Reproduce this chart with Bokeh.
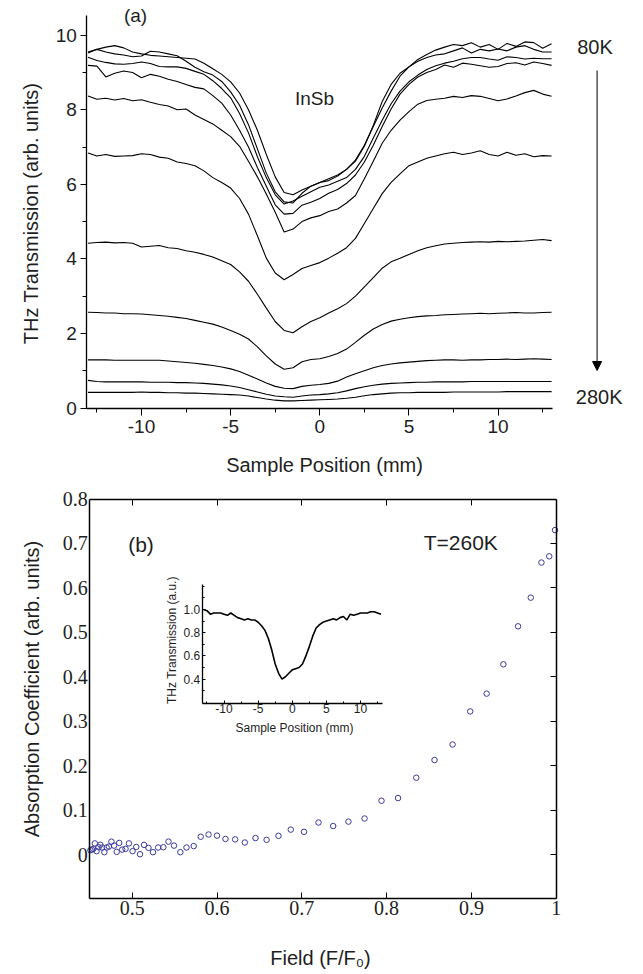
from bokeh.plotting import figure
from bokeh.models import (FixedTicker, Label, Arrow, NormalHead, LinearAxis, Range1d,
                          PrintfTickFormatter, CustomJSTickFormatter)
from bokeh.layouts import column
from bokeh.embed import file_html
from bokeh.resources import INLINE

FONT = "Liberation Sans"
NARROW = "Liberation Sans Narrow"
TXT = "#1e1e1e"

# ---------------- panel (a): THz transmission vs sample position ----------------
position_mm = [-13, -12.5, -12, -11.5, -11, -10.5, -10, -9.5, -9, -8.5, -8, -7.5, -7,
               -6.5, -6, -5.5, -5, -4.5, -4, -3.5, -3, -2.5, -2, -1.5, -1, -0.5,
               0, 0.5, 1, 1.5, 2, 2.5, 3, 3.5, 4, 4.5, 5, 5.5, 6,
               6.5, 7, 7.5, 8, 8.5, 9, 9.5, 10, 10.5, 11, 11.5, 12, 12.5, 13]

trans_1 = [9.52, 9.62, 9.68, 9.72, 9.66, 9.55, 9.50, 9.46, 9.44, 9.42, 9.40, 9.38, 9.36,
           9.25, 9.10, 8.95, 8.75, 8.45, 8.00, 7.45, 6.80, 6.20, 5.78, 5.72, 5.85, 5.95,
           6.05, 6.15, 6.25, 6.40, 6.65, 7.05, 7.55, 8.05, 8.50, 8.90, 9.15, 9.35, 9.48,
           9.60, 9.68, 9.75, 9.72, 9.80, 9.68, 9.75, 9.62, 9.78, 9.70, 9.82, 9.80, 9.65, 9.77]
trans_2 = [9.55, 9.62, 9.55, 9.50, 9.47, 9.42, 9.44, 9.57, 9.55, 9.50, 9.45, 9.30, 9.14,
           9.02, 8.93, 8.76, 8.48, 8.12, 7.60, 6.95, 6.30, 5.80, 5.53, 5.50, 5.76, 5.95,
           6.05, 6.10, 6.22, 6.40, 6.62, 7.02, 7.58, 8.22, 8.68, 8.98, 9.15, 9.30, 9.40,
           9.47, 9.50, 9.58, 9.66, 9.52, 9.62, 9.58, 9.63, 9.58, 9.68, 9.72, 9.62, 9.55, 9.55]
trans_3 = [9.41, 9.32, 9.27, 9.23, 9.22, 9.24, 9.28, 9.24, 9.16, 9.15, 9.15, 9.11, 9.03,
           8.95, 8.78, 8.57, 8.32, 7.90, 7.38, 6.74, 6.18, 5.72, 5.47, 5.55, 5.68, 5.80,
           5.92, 5.98, 6.08, 6.18, 6.40, 6.75, 7.24, 7.72, 8.16, 8.50, 8.75, 8.93, 9.08,
           9.18, 9.25, 9.30, 9.37, 9.40, 9.40, 9.36, 9.33, 9.42, 9.40, 9.36, 9.38, 9.37, 9.37]
trans_4 = [9.19, 9.17, 8.88, 8.98, 9.04, 9.00, 8.86, 8.95, 8.90, 8.82, 8.76, 8.68, 8.60,
           8.56, 8.38, 8.18, 7.86, 7.45, 7.00, 6.45, 5.95, 5.45, 5.20, 5.22, 5.44, 5.52,
           5.62, 5.76, 5.86, 6.02, 6.25, 6.60, 7.05, 7.55, 8.02, 8.42, 8.68, 8.88, 9.00,
           9.08, 9.20, 9.14, 9.25, 9.22, 9.18, 9.14, 9.16, 9.24, 9.26, 9.20, 9.28, 9.24, 9.19]
trans_5 = [8.37, 8.28, 8.31, 8.26, 8.30, 8.24, 8.27, 8.20, 8.14, 8.10, 8.00, 8.02, 7.86,
           7.74, 7.62, 7.45, 7.28, 7.02, 6.62, 6.20, 5.74, 5.25, 4.72, 4.80, 5.00, 5.10,
           5.16, 5.27, 5.34, 5.50, 5.70, 6.15, 6.62, 7.10, 7.45, 7.72, 7.95, 8.15, 8.25,
           8.28, 8.31, 8.36, 8.33, 8.38, 8.36, 8.30, 8.24, 8.29, 8.37, 8.46, 8.52, 8.42, 8.36]
trans_6 = [6.84, 6.76, 6.80, 6.75, 6.76, 6.77, 6.82, 6.80, 6.73, 6.70, 6.60, 6.56, 6.50,
           6.36, 6.18, 6.05, 5.90, 5.62, 5.20, 4.62, 4.02, 3.62, 3.44, 3.58, 3.74, 3.82,
           3.90, 4.02, 4.15, 4.30, 4.55, 4.95, 5.35, 5.75, 6.05, 6.28, 6.50, 6.60, 6.70,
           6.76, 6.82, 6.86, 6.80, 6.84, 6.90, 6.80, 6.76, 6.86, 6.78, 6.82, 6.74, 6.77, 6.76]
trans_7 = [4.42, 4.44, 4.45, 4.43, 4.44, 4.42, 4.32, 4.34, 4.36, 4.30, 4.28, 4.22, 4.18,
           4.12, 4.05, 3.95, 3.85, 3.65, 3.40, 3.05, 2.68, 2.32, 2.08, 2.02, 2.18, 2.32,
           2.42, 2.55, 2.66, 2.80, 3.00, 3.25, 3.50, 3.75, 3.92, 4.02, 4.12, 4.22, 4.30,
           4.35, 4.40, 4.42, 4.44, 4.45, 4.46, 4.45, 4.47, 4.46, 4.47, 4.48, 4.50, 4.52, 4.49]
trans_8 = [2.57, 2.56, 2.55, 2.55, 2.53, 2.53, 2.52, 2.50, 2.48, 2.46, 2.43, 2.40, 2.35,
           2.30, 2.25, 2.17, 2.08, 1.98, 1.85, 1.64, 1.40, 1.18, 1.04, 1.08, 1.24, 1.30,
           1.32, 1.38, 1.46, 1.58, 1.76, 1.95, 2.12, 2.24, 2.33, 2.38, 2.42, 2.45, 2.47,
           2.48, 2.50, 2.51, 2.52, 2.53, 2.54, 2.53, 2.54, 2.55, 2.56, 2.55, 2.55, 2.56, 2.57]
trans_9 = [1.29, 1.29, 1.29, 1.28, 1.28, 1.28, 1.28, 1.28, 1.28, 1.26, 1.24, 1.22, 1.20,
           1.17, 1.14, 1.10, 1.05, 0.98, 0.88, 0.78, 0.67, 0.58, 0.53, 0.52, 0.58, 0.61,
           0.63, 0.66, 0.72, 0.83, 0.92, 1.00, 1.08, 1.14, 1.18, 1.21, 1.23, 1.25, 1.27,
           1.28, 1.29, 1.29, 1.28, 1.29, 1.29, 1.30, 1.30, 1.31, 1.30, 1.31, 1.32, 1.31, 1.30]
trans_10 = [0.74, 0.71, 0.70, 0.70, 0.70, 0.70, 0.70, 0.69, 0.69, 0.69, 0.68, 0.68, 0.67,
            0.66, 0.64, 0.62, 0.59, 0.55, 0.49, 0.43, 0.37, 0.32, 0.30, 0.29, 0.32, 0.35,
            0.36, 0.38, 0.41, 0.46, 0.52, 0.57, 0.61, 0.64, 0.66, 0.67, 0.68, 0.69, 0.69,
            0.70, 0.70, 0.70, 0.70, 0.71, 0.71, 0.71, 0.71, 0.71, 0.71, 0.71, 0.71, 0.71, 0.71]
trans_11 = [0.42, 0.42, 0.42, 0.42, 0.42, 0.42, 0.43, 0.42, 0.42, 0.41, 0.41, 0.40, 0.40,
            0.39, 0.38, 0.37, 0.36, 0.35, 0.32, 0.28, 0.24, 0.21, 0.19, 0.19, 0.20, 0.21,
            0.22, 0.23, 0.24, 0.26, 0.29, 0.33, 0.36, 0.38, 0.40, 0.41, 0.41, 0.42, 0.42,
            0.42, 0.42, 0.43, 0.43, 0.43, 0.43, 0.43, 0.43, 0.44, 0.44, 0.44, 0.44, 0.44, 0.44]

a_xticks = [-10, -5, 0, 5, 10]
a_xminor = [-12.5, -7.5, -2.5, 2.5, 7.5, 12.5]
a_yticks = [0, 2, 4, 6, 8, 10]
a_yminor = [1, 3, 5, 7, 9]

# ---------------- panel (b): absorption coefficient vs field ----------------
field = [0.4507, 0.4524, 0.4541, 0.4559, 0.458, 0.4603, 0.4624, 0.4646, 0.4672, 0.4699,
         0.4725, 0.4755, 0.4786, 0.4817, 0.4847, 0.4882, 0.4921, 0.4961, 0.5004, 0.5048,
         0.5092, 0.514, 0.5192, 0.5245, 0.5306, 0.5367, 0.5428, 0.5493, 0.5568, 0.564,
         0.5725, 0.5808, 0.59, 0.60, 0.61, 0.6214, 0.6328, 0.6454, 0.6585, 0.6725,
         0.687, 0.7026, 0.7197, 0.737, 0.755, 0.774, 0.794, 0.8135, 0.835, 0.8565,
         0.8778, 0.8986, 0.918, 0.9377, 0.955, 0.970, 0.9826, 0.9918, 0.9986]
absorption = [0.0097, 0.011, 0.0127, 0.025, 0.0075, 0.0164, 0.022, 0.0157, 0.0052, 0.0157,
              0.018, 0.029, 0.020, 0.006, 0.026, 0.011, 0.0127, 0.025, 0.0075, 0.017,
              0.0007, 0.0216, 0.015, 0.0052, 0.0157, 0.0164, 0.029, 0.020, 0.0052, 0.0157,
              0.019, 0.040, 0.045, 0.0425, 0.035, 0.034, 0.027, 0.037, 0.033, 0.042,
              0.056, 0.051, 0.072, 0.064, 0.074, 0.081, 0.121, 0.127, 0.1728, 0.2126,
              0.2476, 0.322, 0.362, 0.428, 0.5135, 0.578, 0.657, 0.671, 0.730]
b_xticks = [0.5, 0.6, 0.7, 0.8, 0.9, 1.0]
b_yticks = [0, 0.1, 0.2, 0.3, 0.4, 0.5, 0.6, 0.7, 0.8]

# ---------------- inset: transmission at 260 K ----------------
inset_trans = [1.00, 0.99, 0.96, 0.97, 0.97, 0.97, 0.96, 0.95, 0.97, 0.95, 0.93, 0.92, 0.91,
               0.92, 0.91, 0.91, 0.89, 0.86, 0.82, 0.75, 0.65, 0.53, 0.45, 0.40, 0.42, 0.45,
               0.48, 0.49, 0.50, 0.53, 0.60, 0.68, 0.77, 0.84, 0.87, 0.89, 0.90, 0.91, 0.92,
               0.91, 0.93, 0.94, 0.91, 0.96, 0.95, 0.96, 0.97, 0.97, 0.97, 0.98, 0.98, 0.97, 0.96]
i_xticks = [-10, -5, 0, 5, 10]
i_xminor = [-12.5, -7.5, -2.5, 2.5, 7.5, 12.5]
i_yticks = [0.4, 0.6, 0.8, 1.0]
i_yminor = [0.3, 0.5, 0.7, 0.9, 1.1, 1.2]

# ---------------- page geometry (pixels) ----------------
W = 640
HA = 476          # height of panel (a) canvas
HB = 497          # height of panel (b) canvas (starts at page y = HA)


def make_map(v0, p0, v1, p1):
    """value <- page-pixel map from two calibration anchors"""
    k = (p1 - p0) / (v1 - v0)
    return lambda p: v0 + (p - p0) / k


hyphen = {-10: "-10", -5: "-5"}


def style_axis(ax, size, font=FONT, width=1.3):
    ax.axis_line_color = "black"
    ax.axis_line_width = width
    ax.major_tick_line_color = "black"
    ax.minor_tick_line_color = "black"
    ax.major_label_text_font = font
    ax.major_label_text_font_size = size
    ax.major_label_text_color = TXT


def add_text(p, x, y, txt, size, angle=0.0, font=FONT):
    p.add_layout(Label(x=x, y=y, text=txt, text_font=font, text_font_size=size,
                       text_color=TXT, text_align="center", text_baseline="middle",
                       angle=angle, angle_units="deg"))


# ======== figure (a) ========
ax_ = make_map(-10, 141.0, 10, 497.6)
ay_ = make_map(0, 407.5, 10, 34.7)
pa = figure(width=W, height=HA, x_range=Range1d(ax_(0), ax_(W)), y_range=Range1d(ay_(HA), ay_(0)),
            x_axis_location=None, y_axis_location=None, title=None,
            output_backend="svg", toolbar_location=None,
            min_border=0, min_border_left=0, min_border_right=0, min_border_top=0, min_border_bottom=0)
pa.outline_line_color = None
pa.grid.visible = False
for series in [trans_1, trans_2, trans_3, trans_4, trans_5, trans_6,
               trans_7, trans_8, trans_9, trans_10, trans_11]:
    pa.line(position_mm, series, line_color="black", line_width=1.1)

a_xlo, a_xhi = ax_(86.3), ax_(551.7)
xa = LinearAxis(fixed_location=0, bounds=(a_xlo, a_xhi),
                ticker=FixedTicker(ticks=a_xticks, minor_ticks=a_xminor))
style_axis(xa, "19px")
xa.major_label_overrides = hyphen
xa.major_tick_out, xa.major_tick_in = 7, 0
xa.minor_tick_out, xa.minor_tick_in = 4, 0
xa.major_label_standoff = 5
pa.add_layout(xa, "below")

ya = LinearAxis(fixed_location=a_xlo, bounds=(0, ay_(15)),
                ticker=FixedTicker(ticks=a_yticks, minor_ticks=a_yminor))
style_axis(ya, "19px")
ya.major_tick_out, ya.major_tick_in = 6, 0
ya.minor_tick_out, ya.minor_tick_in = 4, 0
ya.major_label_standoff = 4
pa.add_layout(ya, "left")

add_text(pa, ax_(324), ay_(464), "Sample Position (mm)", "20px")
add_text(pa, ax_(30.8), ay_(213), "THz Transmission (arb. units)", "20px", angle=90)
add_text(pa, ax_(135), ay_(15), "(a)", "19px")
add_text(pa, ax_(314), ay_(97.5), "InSb", "19px")
add_text(pa, ax_(594.5), ay_(46.7), "80K", "20px")
add_text(pa, ax_(598.7), ay_(396.7), "280K", "20px")
pa.add_layout(Arrow(end=NormalHead(size=9, fill_color="black", line_color="black", line_width=1),
                    x_start=ax_(596.6), y_start=ay_(70), x_end=ax_(596.6), y_end=ay_(370),
                    line_color="black", line_width=1))

# ======== figure (b) ========
bx_ = make_map(0.5, 131.7, 1.0, 555.7)
by_ = make_map(0, 854.0, 0.8, 498.5)
pb = figure(width=W, height=HB, x_range=Range1d(bx_(0), bx_(W)),
            y_range=Range1d(by_(HA + HB), by_(HA)),
            x_axis_location=None, y_axis_location=None, title=None,
            output_backend="svg", toolbar_location=None,
            min_border=0, min_border_left=0, min_border_right=0, min_border_top=0, min_border_bottom=0)
pb.outline_line_color = None
pb.grid.visible = False
pb.scatter(field, absorption, marker="circle", size=5.5, fill_color=None,
           line_color="#3a3a9c", line_width=1)

b_xlo, b_ylo = 0.45, -0.1
b_xhi, b_yhi = 1.0, 0.8
xb = LinearAxis(fixed_location=b_ylo, bounds=(b_xlo, b_xhi),
                ticker=FixedTicker(ticks=b_xticks, minor_ticks=[]))
style_axis(xb, "20px", NARROW, 1.5)
xb.major_label_overrides = {1: "1"}
xb.major_tick_in, xb.major_tick_out = 6, 0
xb.major_label_standoff = 2
pb.add_layout(xb, "below")

yb = LinearAxis(fixed_location=b_xlo, bounds=(b_ylo, b_yhi),
                ticker=FixedTicker(ticks=b_yticks, minor_ticks=[]))
style_axis(yb, "20px", NARROW, 1.5)
yb.major_label_overrides = {0: "0"}
yb.major_tick_in, yb.major_tick_out = 0, 0
yb.major_tick_line_color = None
yb.major_label_standoff = 2
pb.add_layout(yb, "left")

rb = LinearAxis(fixed_location=b_xhi, bounds=(b_ylo, b_yhi),
                ticker=FixedTicker(ticks=b_yticks, minor_ticks=[]),
                formatter=CustomJSTickFormatter(code="return ''"))
tb = LinearAxis(fixed_location=b_yhi, bounds=(b_xlo, b_xhi),
                ticker=FixedTicker(ticks=b_xticks[:-1], minor_ticks=[]),
                formatter=CustomJSTickFormatter(code="return ''"))
for ax in (rb, tb):
    style_axis(ax, "10px", FONT, 1.5)
    ax.major_tick_in, ax.major_tick_out = 6, 0
pb.add_layout(rb, "right")
pb.add_layout(tb, "above")

add_text(pb, bx_(320), by_(957), "Field (F/F\u2080)", "20px")
add_text(pb, bx_(31.8), by_(688.5), "Absorption Coefficient (arb. units)", "20px", angle=90)
add_text(pb, bx_(140.5), by_(544), "(b)", "21px")
add_text(pb, bx_(460.3), by_(542), "T=260K", "21px")

# ---- inset, drawn in panel (b) on its own calibrated ranges ----
ix_ = make_map(-10, 223.5, 10, 360.0)
iy_ = make_map(1.0, 609.0, 0.4, 678.6)
pb.extra_x_ranges = {"ix": Range1d(ix_(0), ix_(W))}
pb.extra_y_ranges = {"iy": Range1d(iy_(HA + HB), iy_(HA))}
pb.line(position_mm, inset_trans, line_color="black", line_width=1.6,
        x_range_name="ix", y_range_name="iy")

i_xlo, i_xhi = ix_(201.7), ix_(382.3)
i_ylo, i_yhi = iy_(702.5), iy_(584.0)
xi = LinearAxis(x_range_name="ix", y_range_name="iy", fixed_location=i_ylo, bounds=(i_xlo, i_xhi),
                ticker=FixedTicker(ticks=i_xticks, minor_ticks=i_xminor))
style_axis(xi, "12px")
xi.major_label_overrides = hyphen
xi.major_tick_in, xi.major_tick_out = 3, 0
xi.minor_tick_in, xi.minor_tick_out = 2, 0
xi.major_label_standoff = 1
pb.add_layout(xi, "below")

yi = LinearAxis(x_range_name="ix", y_range_name="iy", fixed_location=i_xlo, bounds=(i_ylo, i_yhi),
                ticker=FixedTicker(ticks=i_yticks, minor_ticks=i_yminor),
                formatter=PrintfTickFormatter(format="%.1f"))
style_axis(yi, "12px")
yi.major_tick_in, yi.major_tick_out = 3, 0
yi.minor_tick_in, yi.minor_tick_out = 2, 0
yi.major_label_standoff = 2
pb.add_layout(yi, "left")

add_text(pb, bx_(294), by_(727), "Sample Position (mm)", "12px")
add_text(pb, bx_(171), by_(638), "THz Transmission  (a.u.)", "12px", angle=90)

layout = column(pa, pb)
open("out.html", "w").write(file_html(layout, INLINE))
